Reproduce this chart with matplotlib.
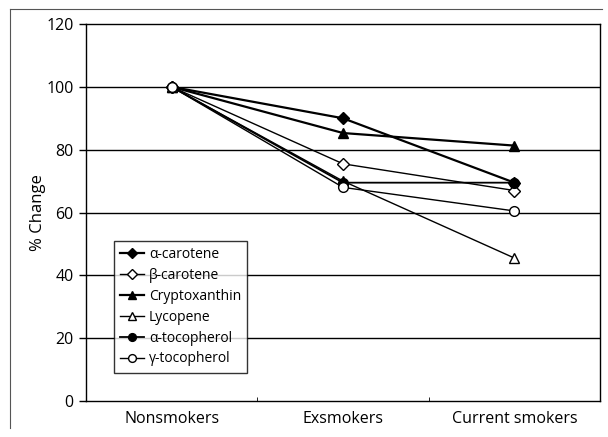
import matplotlib
matplotlib.use("Agg")
import matplotlib.pyplot as plt
from matplotlib.lines import Line2D

plt.rcParams['font.family'] = ['Open Sans', 'DejaVu Sans']

groups = ['Nonsmokers', 'Exsmokers', 'Current smokers']
alpha_carotene = [100, 90, 69.5]
beta_carotene = [100, 75.5, 67]
cryptoxanthin = [100, 85.3, 81.3]
lycopene = [100, 70, 45.5]
alpha_tocopherol = [100, 69.5, 69.5]
gamma_tocopherol = [100, 68, 60.5]

series = [
    ('α-carotene', alpha_carotene, 'D', 'black', 1.6, 6),
    ('β-carotene', beta_carotene, 'D', 'white', 1.0, 6),
    ('Cryptoxanthin', cryptoxanthin, '^', 'black', 1.6, 7.5),
    ('Lycopene', lycopene, '^', 'white', 1.0, 7.5),
    ('α-tocopherol', alpha_tocopherol, 'o', 'black', 1.3, 7),
    ('γ-tocopherol', gamma_tocopherol, 'o', 'white', 1.0, 7),
]

fig = plt.figure(figsize=(6.08, 4.37), dpi=100)
ax = fig.add_axes([0.1414, 0.0824, 0.8456, 0.8626])

x = list(range(len(groups)))
for label, vals, mk, fc, lw, ms in series:
    ax.plot(x, vals, color='black', lw=lw, marker=mk, markersize=ms,
            markerfacecolor=fc, markeredgecolor='black', markeredgewidth=1.0,
            label=label, zorder=3)

ax.set_xlim(-0.5, 2.5)
ax.set_ylim(0, 120)
ax.set_yticks([0, 20, 40, 60, 80, 100, 120])
for yv in [20, 40, 60, 80, 100]:
    ax.axhline(yv, color='black', lw=1.0, zorder=1)

ax.set_xticks(x)
ax.set_xticklabels(groups, fontsize=11.5)
ax.tick_params(axis='x', length=0, pad=7)
ax.set_xticks([0.5, 1.5], minor=True)
ax.tick_params(axis='x', which='minor', direction='in', length=3)
ax.tick_params(axis='y', labelsize=11.5, length=5, width=1.0, pad=4)
ax.set_ylabel('% Change', fontsize=12, labelpad=0)

for s in ax.spines.values():
    s.set_linewidth(1.0)

leg = ax.legend(loc='lower left', bbox_to_anchor=(0.055, 0.075), fontsize=10,
                handlelength=1.7, handletextpad=0.35, labelspacing=0.42,
                borderpad=0.45, frameon=True, fancybox=False, borderaxespad=0,
                markerscale=0.8)
leg.get_frame().set_edgecolor('black')
leg.get_frame().set_linewidth(1.0)

# scanned page frame
fig.add_artist(Line2D([0.016, 0.016], [0.02, 0.98], color='#555555', lw=0.8))
fig.add_artist(Line2D([0.016, 0.99], [0.98, 0.98], color='#555555', lw=0.8))

fig.savefig('out.png', dpi=100)
